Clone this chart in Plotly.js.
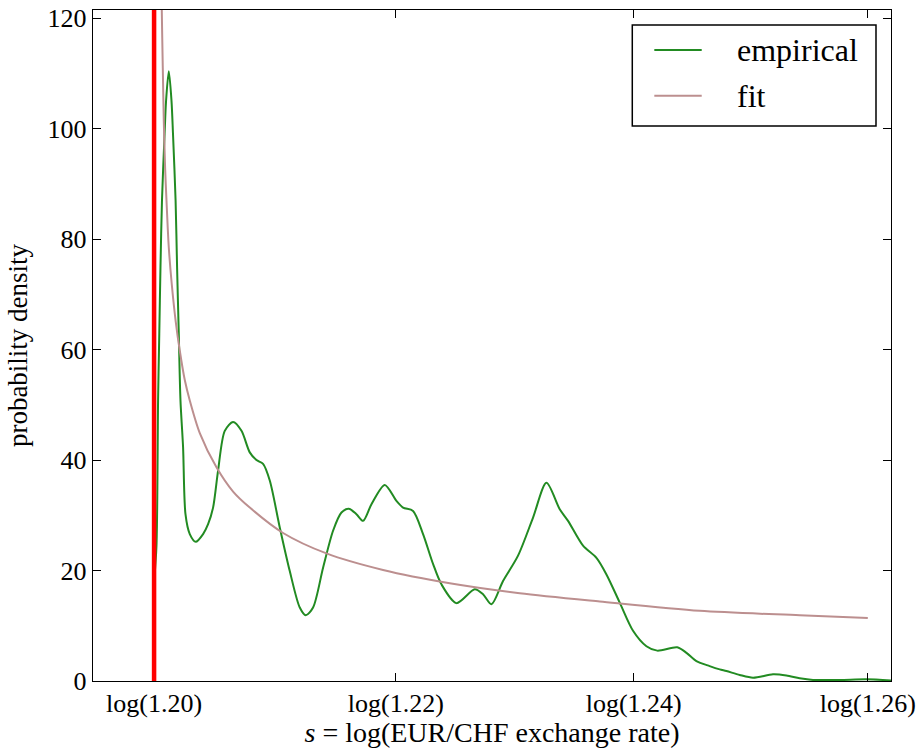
<!DOCTYPE html>
<html>
<head>
<meta charset="utf-8">
<script src="https://cdn.plot.ly/plotly-3.0.1.min.js"></script>
<style>
  html, body { margin: 0; padding: 0; background: #ffffff; }
  #chart { width: 919px; height: 756px; }
</style>
</head>
<body>
<div id="chart"></div>
<script>
// Kernel density estimate of s = log(EUR/CHF) and the fitted density.
const empiricalS = [
  0.182322, 0.182486, 0.182595, 0.182677, 0.182759, 0.182862, 0.183040, 0.183142,
  0.183327, 0.183511, 0.183614, 0.183792, 0.183894, 0.184010, 0.184126, 0.184304,
  0.184468, 0.184762, 0.185172, 0.185671, 0.186013, 0.186355, 0.186697, 0.187154,
  0.187722, 0.188296, 0.188863, 0.189322, 0.189772, 0.190230, 0.190914, 0.191597,
  0.192281, 0.192691, 0.193190, 0.193874, 0.194557, 0.195131, 0.195630, 0.196157,
  0.196608, 0.197182, 0.198091, 0.198891, 0.199342, 0.200025, 0.200709, 0.201392,
  0.201966, 0.202992, 0.204243, 0.204810, 0.205384, 0.206177, 0.207202, 0.208228,
  0.209144, 0.210053, 0.210620, 0.211645, 0.212561, 0.213245, 0.214154, 0.215063,
  0.215979, 0.216717, 0.218084, 0.218713, 0.219396, 0.220300, 0.220989, 0.221447,
  0.222356, 0.223265, 0.224632, 0.225548, 0.226457, 0.227366, 0.229191, 0.231016,
  0.232711
];
const empiricalDensity = [
  18.1, 24.5, 50.8, 62.9, 74.9, 87.0, 99.1, 105.1,
  110.4, 105.1, 99.1, 87.0, 74.9, 62.9, 50.8, 42.3,
  30.2, 26.6, 25.2, 26.6, 28.4, 31.4, 38.1, 45.3,
  46.9, 45.3, 41.4, 40.0, 39.3, 36.3, 27.8, 19.9,
  13.3, 11.9, 13.3, 20.5, 27.2, 30.5, 31.2, 30.2,
  29.0, 32.0, 35.5, 32.6, 31.4, 30.8, 26.6, 21.2,
  17.5, 14.1, 16.6, 15.7, 13.9, 18.1, 22.7, 29.6,
  35.9, 31.1, 29.0, 24.5, 22.3, 19.3, 14.2, 9.1,
  6.3, 5.5, 6.1, 5.1, 3.6, 2.7, 2.1, 1.8,
  1.1, 0.6, 1.2, 1.0, 0.5, 0.2, 0.2, 0.3,
  0.1
];

const fitS = [
  0.182794, 0.182848, 0.182917, 0.182985, 0.183074, 0.183170, 0.183327, 0.183532,
  0.183806, 0.184079, 0.184420, 0.184762, 0.185446, 0.186587, 0.187722, 0.188863,
  0.191139, 0.194106, 0.197975, 0.202534, 0.207319, 0.212787, 0.219622, 0.226457,
  0.231112
];
const fitDensity = [
  135, 121.5, 111, 101.5, 93, 87, 78.5, 71.8,
  65, 59.8, 54.5, 50.8, 44.9, 38.7, 34.3, 31.4,
  26.8, 23.1, 20.1, 17.7, 15.9, 14.4, 12.7, 11.9,
  11.4
];

// Exchange-rate floor, and the rates used as x tick marks.
const floorRate = 1.20;
const tickRates = [1.20, 1.22, 1.24, 1.26];
const tickLabels = ['log(1.20)', 'log(1.22)', 'log(1.24)', 'log(1.26)'];
const rateLimits = [1.195, 1.262];
const densityTicks = [0, 20, 40, 60, 80, 100, 120];

const seriesNames = ['empirical', 'fit'];
const seriesColors = ['#228b22', '#bc8f8f'];

const serif = 'Liberation Serif, Times New Roman, serif';

const traces = [
  {
    x: empiricalS, y: empiricalDensity,
    type: 'scatter', mode: 'lines', name: seriesNames[0],
    line: { color: seriesColors[0], width: 2, shape: 'spline', smoothing: 0.8 }
  },
  {
    x: fitS, y: fitDensity,
    type: 'scatter', mode: 'lines', name: seriesNames[1],
    line: { color: seriesColors[1], width: 2, shape: 'spline', smoothing: 0.8 }
  }
];

const axisCommon = {
  showgrid: false, zeroline: false,
  showline: true, linecolor: '#000', linewidth: 1.3,
  mirror: 'allticks', ticks: 'inside', ticklen: 8, tickwidth: 1, tickcolor: '#000',
  tickfont: { family: serif, size: 26, color: '#000' }
};

// Legend box drawn in paper coordinates (upper right of the axes).
const legendBox = { x0: 0.6758, x1: 0.9812, y0: 0.8271, y1: 0.9776 };
const legendRowsY = [0.9404, 0.8723];
const legendLineX = [0.7034, 0.7628];
const legendTextX = 0.8040;

const shapes = [{
  type: 'line', layer: 'above',
  xref: 'x', yref: 'paper',
  x0: Math.log(floorRate), x1: Math.log(floorRate), y0: 0, y1: 1,
  line: { color: '#ff0000', width: 4.5 }
}, {
  type: 'rect', layer: 'above', xref: 'paper', yref: 'paper',
  x0: legendBox.x0, x1: legendBox.x1, y0: legendBox.y0, y1: legendBox.y1,
  fillcolor: '#ffffff', line: { color: '#000', width: 1.5 }
}];
const annotations = [];
seriesNames.forEach((name, i) => {
  shapes.push({
    type: 'line', layer: 'above', xref: 'paper', yref: 'paper',
    x0: legendLineX[0], x1: legendLineX[1], y0: legendRowsY[i], y1: legendRowsY[i],
    line: { color: seriesColors[i], width: 2 }
  });
  annotations.push({
    xref: 'paper', yref: 'paper', x: legendTextX, y: legendRowsY[i],
    xanchor: 'left', yanchor: 'middle', showarrow: false,
    text: name, font: { family: serif, size: 32, color: '#000' }
  });
});

const layout = {
  width: 919, height: 756,
  margin: { l: 93, r: 28, t: 10, b: 75 },
  paper_bgcolor: '#fff', plot_bgcolor: '#fff',
  showlegend: false,
  xaxis: Object.assign({}, axisCommon, {
    range: rateLimits.map(Math.log),
    tickmode: 'array',
    tickvals: tickRates.map(Math.log),
    ticktext: tickLabels,
    ticklabelstandoff: -2,
    title: { text: '<i>s</i> = log(EUR/CHF exchange rate)', font: { family: serif, size: 28, color: '#000' }, standoff: 6 }
  }),
  yaxis: Object.assign({}, axisCommon, {
    range: [0, 121.5],
    tickmode: 'array',
    tickvals: densityTicks,
    title: { text: 'probability density', font: { family: serif, size: 27, color: '#000' }, standoff: 12 }
  }),
  shapes: shapes,
  annotations: annotations
};

Plotly.newPlot('chart', traces, layout, { displayModeBar: false, staticPlot: true });
</script>
</body>
</html>
